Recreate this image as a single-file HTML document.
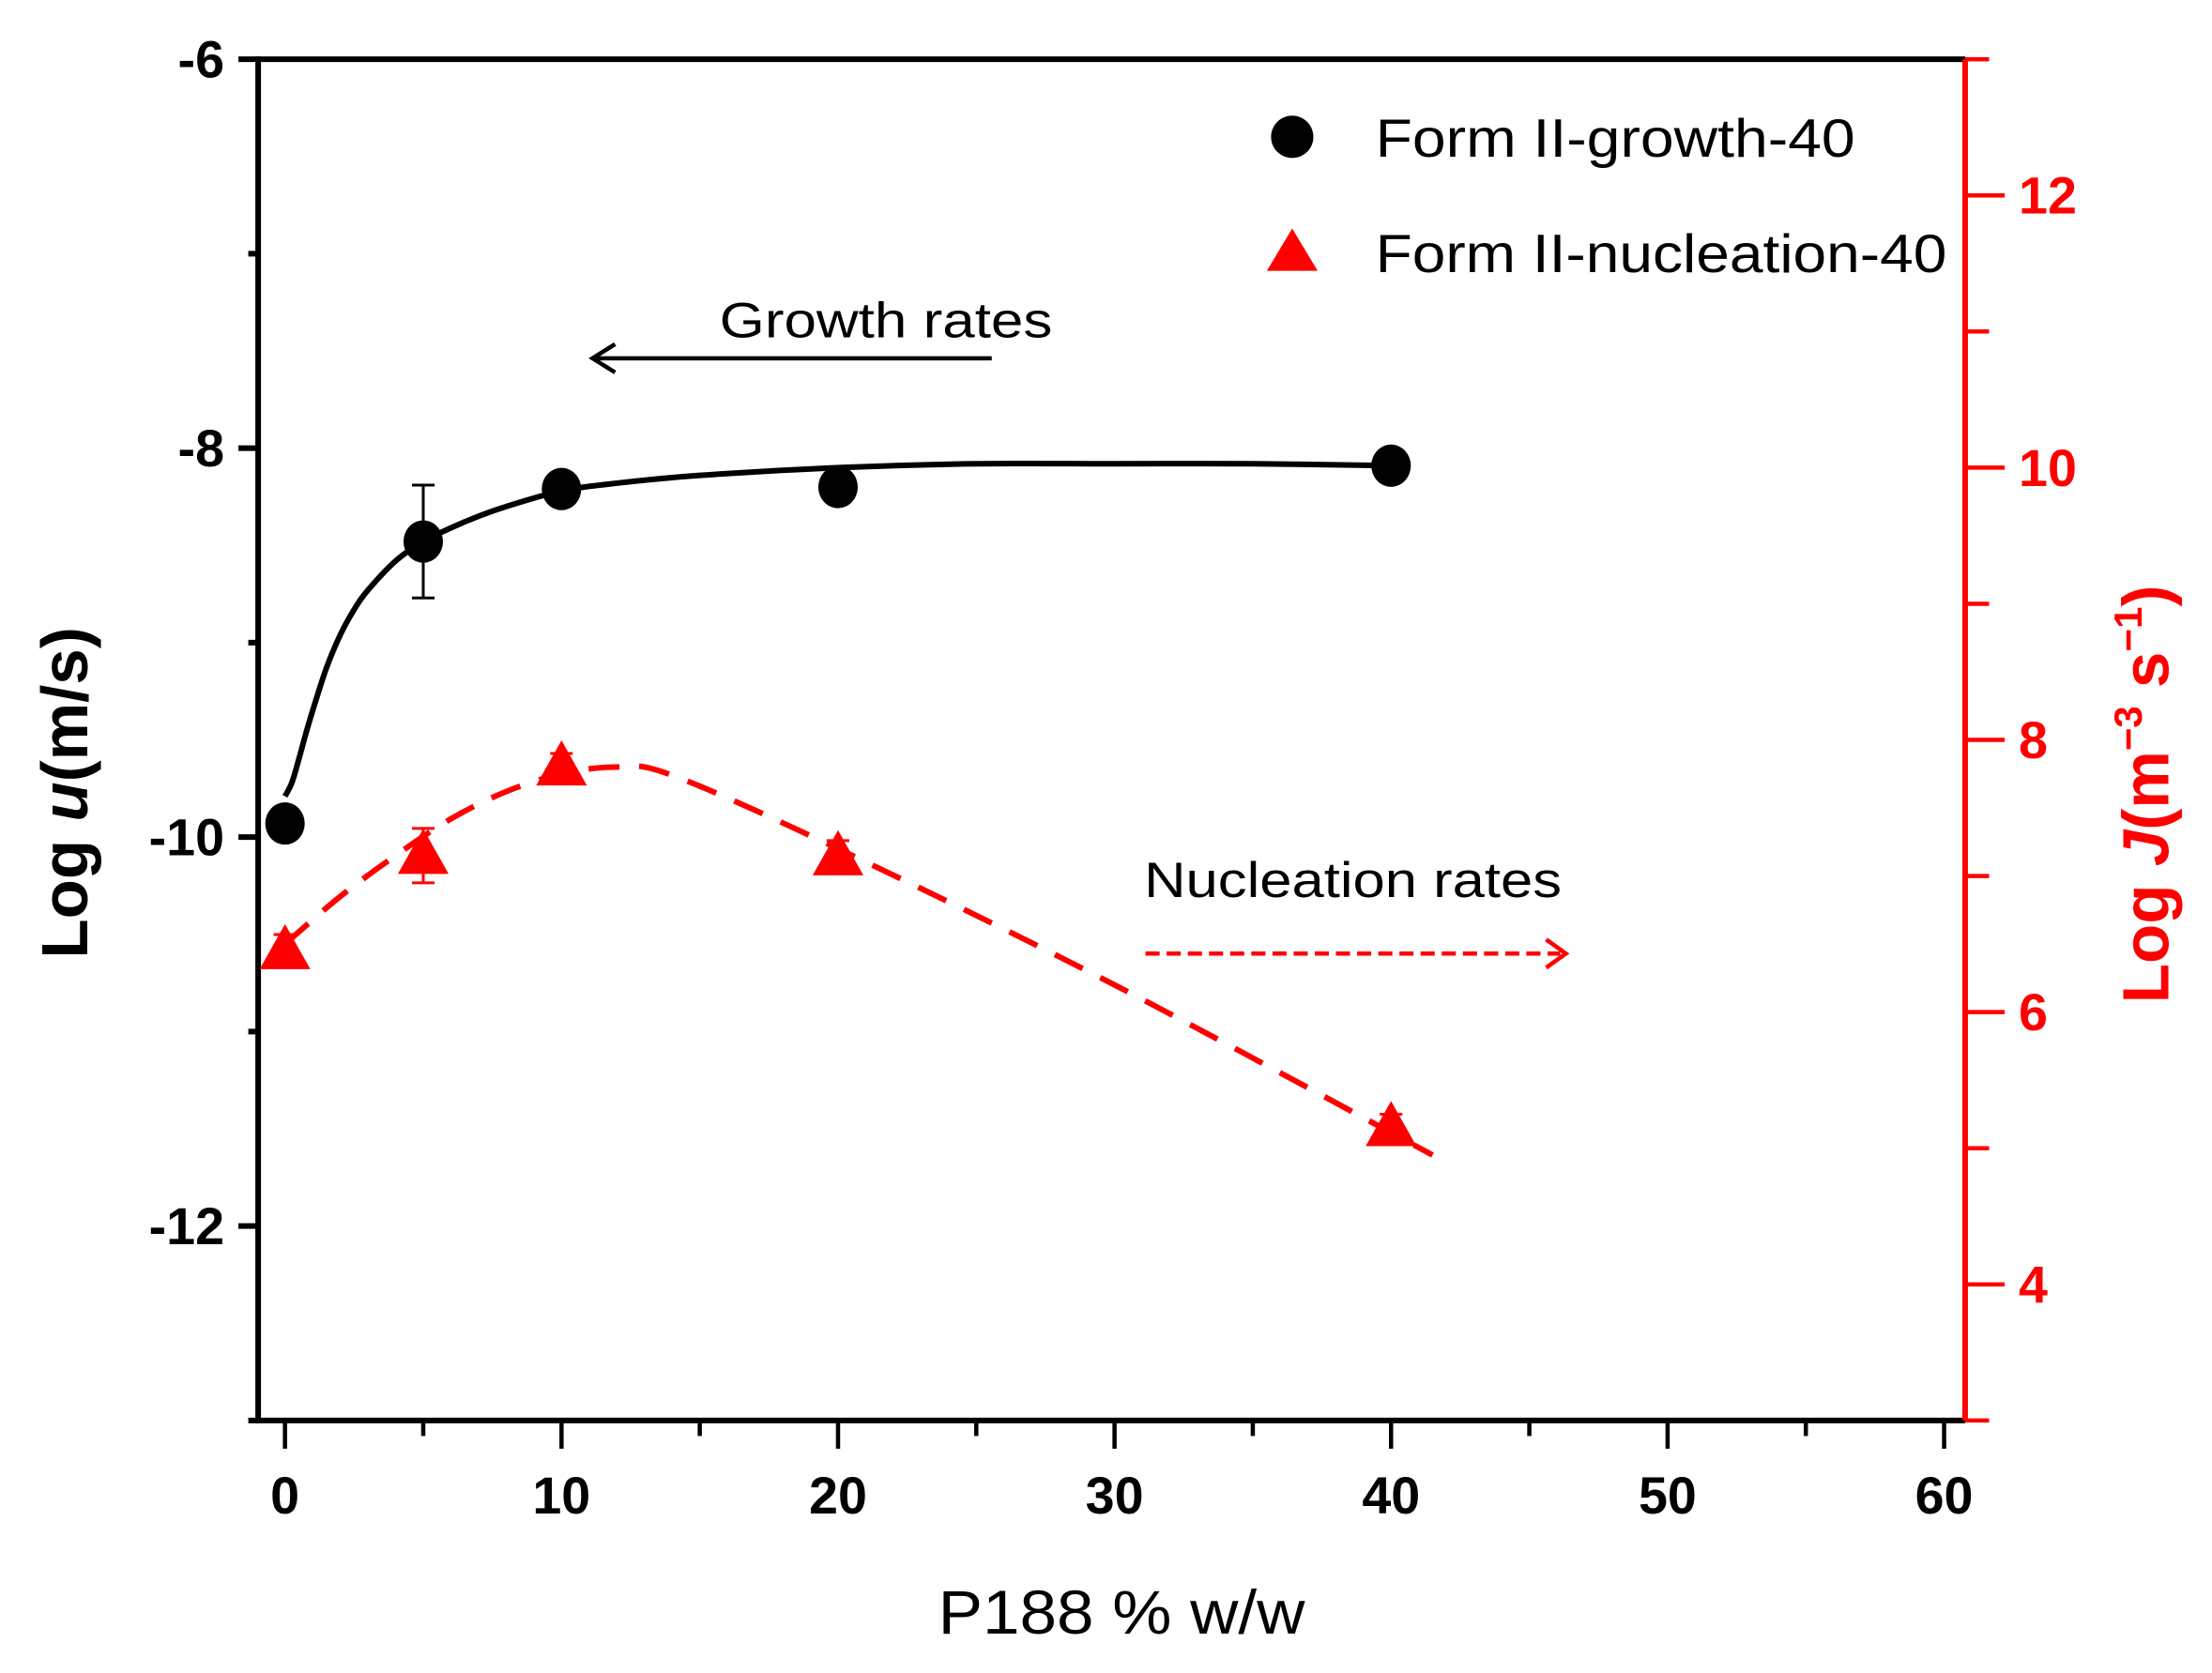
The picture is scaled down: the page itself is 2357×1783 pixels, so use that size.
<!DOCTYPE html>
<html><head><meta charset="utf-8"><style>
html,body{margin:0;padding:0;background:#fff;}
svg{display:block;font-family:"Liberation Sans",sans-serif;}
</style></head><body>
<svg id="chart" width="2357" height="1783" viewBox="0 0 1568 1186" preserveAspectRatio="none" xmlns="http://www.w3.org/2000/svg">
<g id="axes"></g>
<g id="marks"></g>
<g id="ann">
  <text x="975" y="111" font-size="38" textLength="340" lengthAdjust="spacingAndGlyphs">Form II-growth-40</text>
  <text x="975" y="193" font-size="38" textLength="405" lengthAdjust="spacingAndGlyphs">Form II-nucleation-40</text>
  <text x="510" y="239" font-size="35" textLength="236" lengthAdjust="spacingAndGlyphs">Growth rates</text>
  <text x="811" y="636" font-size="35" textLength="296" lengthAdjust="spacingAndGlyphs">Nucleation rates</text>
  <text x="665" y="1158" font-size="44" textLength="260" lengthAdjust="spacingAndGlyphs">P188 % w/w</text>
  <text transform="translate(62,562) rotate(-90)" font-size="46" font-weight="bold" text-anchor="middle">Log <tspan font-style="italic">u</tspan>(m/s)</text>
  <text transform="translate(1537,563) rotate(-90)" font-size="46" font-weight="bold" fill="#ff0000" text-anchor="middle">Log <tspan font-style="italic">J</tspan>(m<tspan font-size="28" dy="-19">−3</tspan><tspan dy="19"> s</tspan><tspan font-size="28" dy="-19">−1</tspan><tspan dy="19">)</tspan></text>
</g>
</svg>
<script>
const xTicks=[0,10,20,30,40,50,60];
const yLeftTicks=[-6,-8,-10,-12];
const yRightTicks=[4,6,8,10,12];
const growthX=[0,5,10,20,40];
const growthY=[-9.93,-8.48,-8.21,-8.2,-8.09];
const growthErr=[0,0.29,0,0,0];
const nucX=[0,5,10,20,40];
const nucY=[6.45,7.15,7.8,7.14,5.15];
const nucErr=[0.12,0.2,0.1,0.12,0.1];
const growthFitX=[0,0.25,0.5,0.75,1,1.5,2,2.5,3,4,5,6,7,8,10,12,15,20,25,30,35,40];
const growthFitY=[-9.79,-9.72,-9.6,-9.47,-9.35,-9.13,-8.96,-8.83,-8.73,-8.58,-8.48,-8.41,-8.35,-8.3,-8.22,-8.18,-8.14,-8.1,-8.08,-8.08,-8.08,-8.09];
const nucFitX=[0,2,4,6,8,10,12,14,20,30,41.5];
const nucFitY=[6.5,6.85,7.15,7.42,7.62,7.75,7.8,7.74,7.2,6.2,4.95];

const L=183,R=1393,T=42,B=1007;
const X0=-0.97,X1=60.76;
const sx=v=>L+(v-X0)/(X1-X0)*(R-L);
const syL=v=>T+(-6-v)/7*(B-T);
const syR=v=>B-(v-3)/10*(B-T);
const NS="http://www.w3.org/2000/svg";
function mk(parent,tag,attrs){const e=document.createElementNS(NS,tag);for(const k in attrs)e.setAttribute(k,attrs[k]);parent.appendChild(e);return e;}
function smooth(pts){let d='M'+pts[0][0]+','+pts[0][1];for(let i=0;i<pts.length-1;i++){const p0=pts[i-1]||pts[i],p1=pts[i],p2=pts[i+1],p3=pts[i+2]||p2;d+=' C'+(p1[0]+(p2[0]-p0[0])/6)+','+(p1[1]+(p2[1]-p0[1])/6)+' '+(p2[0]-(p3[0]-p1[0])/6)+','+(p2[1]-(p3[1]-p1[1])/6)+' '+p2[0]+','+p2[1];}return d;}
const ax=document.getElementById('axes'),mg=document.getElementById('marks');

let e;
e=mk(ax,'line',{x1:L,y1:T,x2:R,y2:T,stroke:'#000','stroke-width':4});


e=mk(ax,'line',{x1:L,y1:T-2,x2:L,y2:B+2,stroke:'#000','stroke-width':4});


e=mk(ax,'line',{x1:L-2,y1:B,x2:R,y2:B,stroke:'#000','stroke-width':4});


e=mk(ax,'line',{x1:R,y1:T,x2:R,y2:B,stroke:'#ff0000','stroke-width':4});



xTicks.forEach(v=>{
  e=mk(ax,'line',{x1:sx(v),y1:B,x2:sx(v),y2:B+20,stroke:'#000','stroke-width':3});
  
  
  e=mk(ax,'text',{x:sx(v),y:B+66,'font-size':37,'font-weight':'bold','text-anchor':'middle'});
  e.textContent=v;
  
  
  if(v<60){
    e=mk(ax,'line',{x1:sx(v+5),y1:B,x2:sx(v+5),y2:B+11,stroke:'#000','stroke-width':3});
    
    
  }
});
yLeftTicks.forEach(v=>{
  e=mk(ax,'line',{x1:L-14,y1:syL(v),x2:L,y2:syL(v),stroke:'#000','stroke-width':4});
  
  
  e=mk(ax,'text',{x:L-24,y:syL(v)+13,'font-size':37,'font-weight':'bold','text-anchor':'end'});
  e.textContent=v;
  
  
  e=mk(ax,'line',{x1:L-7,y1:syL(v-1),x2:L,y2:syL(v-1),stroke:'#000','stroke-width':4});
  
  
});
[3,5,7,9,11,13].forEach(v=>{
  e=mk(ax,'line',{x1:R,y1:syR(v),x2:R+17,y2:syR(v),stroke:'#ff0000','stroke-width':3});
  
  
});
yRightTicks.forEach(v=>{
  e=mk(ax,'line',{x1:R,y1:syR(v),x2:R+28,y2:syR(v),stroke:'#ff0000','stroke-width':3});
  
  
  e=mk(ax,'text',{x:R+38,y:syR(v)+13,'font-size':37,'font-weight':'bold',fill:'#ff0000'});
  e.textContent=v;
  
  
});

// fits
e=mk(mg,'path',{d:smooth(growthFitX.map((x,i)=>[sx(x),syL(growthFitY[i])])),fill:'none',stroke:'#000','stroke-width':4,'stroke-linejoin':'round'});


e=mk(mg,'path',{d:smooth(nucFitX.map((x,i)=>[sx(x),syR(nucFitY[i])])),fill:'none',stroke:'#ff0000','stroke-width':4,'stroke-dasharray':'22,14'});



growthX.forEach((x,i)=>{
  const cx=sx(x),cy=syL(growthY[i]);
  if(growthErr[i]>0){
    const y1=syL(growthY[i]+growthErr[i]),y2=syL(growthY[i]-growthErr[i]);
    e=mk(mg,'path',{d:`M${cx},${y1}V${y2}M${cx-8},${y1}H${cx+8}M${cx-8},${y2}H${cx+8}`,stroke:'#000','stroke-width':2,fill:'none'});
    
    
  }
  e=mk(mg,'ellipse',{cx:cx,cy:cy,rx:14,ry:15,fill:'#000'});
  
  
});
nucX.forEach((x,i)=>{
  const cx=sx(x),cy=syR(nucY[i]);
  const y1=syR(nucY[i]+nucErr[i]),y2=syR(nucY[i]-nucErr[i]);
  e=mk(mg,'path',{d:`M${cx},${y1}V${y2}M${cx-8},${y1}H${cx+8}M${cx-8},${y2}H${cx+8}`,stroke:'#ff0000','stroke-width':2,fill:'none'});
  
  
  e=mk(mg,'polygon',{points:`${cx},${cy-19} ${cx-18},${cy+13} ${cx+18},${cy+13}`,fill:'#ff0000'});
  
  
});

// legend markers & arrows
e=mk(mg,'circle',{cx:916,cy:97,r:15,fill:'#000'});


e=mk(mg,'polygon',{points:'916,162 898,192 934,192',fill:'#ff0000'});


e=mk(mg,'path',{d:'M703,254H420M436,244L420,254L436,264',stroke:'#000','stroke-width':3,fill:'none'});


e=mk(mg,'line',{x1:812,y1:676,x2:1106,y2:676,stroke:'#ff0000','stroke-width':3,'stroke-dasharray':'10,5'});


e=mk(mg,'path',{d:'M1096,666L1110,676L1096,686',stroke:'#ff0000','stroke-width':3,fill:'none'});


</script>
</body></html>
